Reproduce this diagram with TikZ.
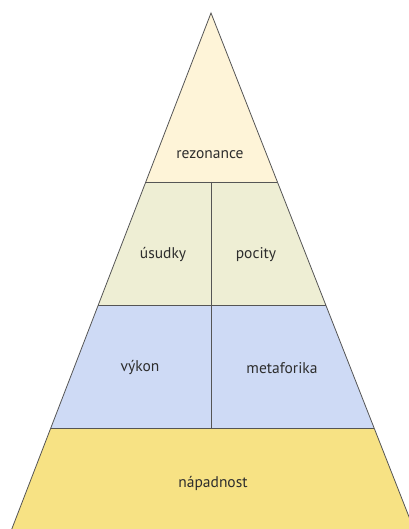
\documentclass[tikz,border=0pt]{standalone}
\usepackage{fontspec}
\setmainfont{PT Sans}
\definecolor{bandA}{RGB}{254,244,216}
\definecolor{bandB}{RGB}{238,238,212}
\definecolor{bandC}{RGB}{206,218,245}
\definecolor{bandD}{RGB}{247,226,132}
\definecolor{edge}{RGB}{85,85,85}
\definecolor{txt}{RGB}{45,45,45}
\tikzset{
  lbl/.style={text=txt, font=\fontsize{15.5}{18}\selectfont, inner sep=0pt},
  edgeline/.style={draw=edge, line width=0.8pt, line join=miter},
}
\begin{document}
\begin{tikzpicture}[x=1pt,y=-1pt]
\useasboundingbox (0,0) rectangle (408,529);
% bands
\fill[bandA] (211,13) -- (277.4,182) -- (145.8,182) -- cycle;
\fill[bandB] (145.8,182) -- (277.4,182) -- (325.8,305) -- (98.3,305) -- cycle;
\fill[bandC] (98.3,305) -- (325.8,305) -- (374.1,428) -- (50.8,428) -- cycle;
\fill[bandD] (50.8,428) -- (374.1,428) -- (413.8,529) -- (11.8,529) -- cycle;
% outline
\draw[edgeline] (11.8,529) -- (211,13) -- (413.8,529);
\draw[edgeline] (145.8,182) -- (277.4,182);
\draw[edgeline] (98.3,305) -- (325.8,305);
\draw[edgeline] (50.8,428) -- (374.1,428);
\draw[edgeline] (211,182) -- (211,428);
% labels
\node[lbl] (rez) at (210,155) {rezonance};
\node[lbl] (usu) at (163,255) {úsudky};
\node[lbl] (poc) at (256,255) {pocity};
\node[lbl] (vyk) at (140,368) {výkon};
\node[lbl] (met) at (282,368) {metaforika};
\node[lbl] (nap) at (213,483) {nápadnost};
\end{tikzpicture}
\end{document}
